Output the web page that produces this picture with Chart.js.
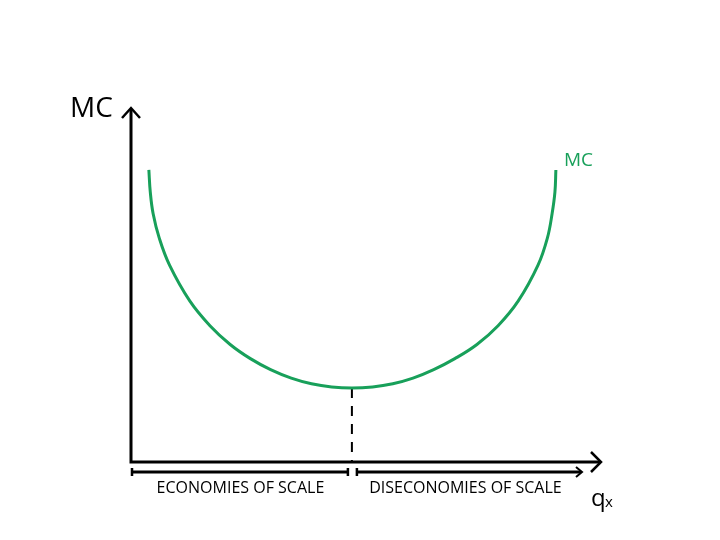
<!DOCTYPE html>
<html>
<head>
<meta charset="utf-8">
<script src="https://cdn.jsdelivr.net/npm/chart.js@4"></script>
<style>
  body { margin: 0; background: #fff; }
</style>
</head>
<body>
<canvas id="myChart" width="720" height="540"></canvas>
<script>
// quantity (x) and marginal cost (y)
var qx = [0.38, 0.41, 0.47, 0.60, 0.82, 1.25, 1.68, 2.11, 2.54, 2.97, 3.41, 3.84, 4.27, 4.70,
          5.14, 5.57, 6.00, 6.44, 6.89, 7.36, 7.81, 8.24, 8.66, 8.86, 8.96, 9.02, 9.04]
var mc = [8.25, 7.63, 7.02, 6.33, 5.56, 4.55, 3.85, 3.32, 2.92, 2.61, 2.37, 2.21, 2.12, 2.09,
          2.12, 2.21, 2.37, 2.61, 2.92, 3.32, 3.85, 4.55, 5.56, 6.33, 7.02, 7.63, 8.25]
// where economies of scale end
var minQ = 4.70
var minMC = 2.09
var scaleLabels = ['ECONOMIES OF SCALE', 'DISECONOMIES OF SCALE']

var curve = qx.map(function(q, i){ return {x: q, y: mc[i]} })
var dropLine = [{x: minQ, y: minMC}, {x: minQ, y: 0}]

var green = '#18a05a'
var font = '"Open Sans", "DejaVu Sans", sans-serif'

function arrowHead(ctx, x, y, dir, len, half){
  ctx.beginPath()
  if(dir === 'up'){
    ctx.moveTo(x - half, y + len); ctx.lineTo(x, y); ctx.lineTo(x + half, y + len)
  }else{
    ctx.moveTo(x - len, y - half); ctx.lineTo(x, y); ctx.lineTo(x - len, y + half)
  }
  ctx.stroke()
}

var axesPlugin = {
  id: 'axesPlugin',
  afterDatasetsDraw: function(chart){
    var ctx = chart.ctx
    var xs = chart.scales.x
    var ys = chart.scales.y
    var x0 = xs.getPixelForValue(0)
    var xEnd = xs.getPixelForValue(10)
    var y0 = ys.getPixelForValue(0)
    var yTop = ys.getPixelForValue(10)
    var xMin = xs.getPixelForValue(minQ)

    ctx.save()
    ctx.strokeStyle = '#000'
    ctx.lineWidth = 3
    ctx.lineCap = 'butt'
    ctx.lineJoin = 'miter'

    // axes
    ctx.beginPath()
    ctx.moveTo(x0, yTop + 1)
    ctx.lineTo(x0, y0)
    ctx.lineTo(xEnd - 1, y0)
    ctx.stroke()
    ctx.lineWidth = 2.5
    arrowHead(ctx, x0, yTop, 'up', 10, 9)
    arrowHead(ctx, xEnd, y0, 'right', 10, 10)

    // brackets under the axis
    var by = y0 + 10
    ctx.lineWidth = 3
    ctx.beginPath()
    ctx.moveTo(x0 + 1, by); ctx.lineTo(xMin - 4, by)
    ctx.moveTo(xMin + 5, by); ctx.lineTo(xEnd - 20, by)
    ctx.stroke()
    ctx.lineWidth = 2.5
    ctx.beginPath()
    ctx.moveTo(x0 + 1, by - 4); ctx.lineTo(x0 + 1, by + 4)
    ctx.moveTo(xMin - 4, by - 4); ctx.lineTo(xMin - 4, by + 4)
    ctx.moveTo(xMin + 5, by - 4); ctx.lineTo(xMin + 5, by + 4)
    ctx.stroke()
    ctx.lineWidth = 2
    arrowHead(ctx, xEnd - 19, by, 'right', 6, 5)

    // text
    ctx.fillStyle = '#000'
    ctx.textBaseline = 'alphabetic'
    ctx.textAlign = 'center'
    ctx.font = '16px ' + font
    ctx.fillText(scaleLabels[0], (x0 + xMin) / 2 - 1, 493)
    ctx.fillText(scaleLabels[1], (xMin + xEnd - 20) / 2 - 1, 493)

    ctx.textAlign = 'left'
    ctx.font = '28px ' + font
    ctx.fillText('MC', 70, 117)

    ctx.font = '24px ' + font
    ctx.fillText('q', 591, 506)
    ctx.font = '15px ' + font
    ctx.fillText('x', 605, 507)

    ctx.fillStyle = green
    ctx.font = '19px ' + font
    ctx.fillText('MC', 564, 166)
    ctx.restore()
  }
}

var config = {
  type: 'line',
  data: {
    datasets: [{
      label: 'MC',
      data: curve,
      borderColor: green,
      borderWidth: 3,
      pointRadius: 0,
      tension: 0.4,
      fill: false
    }, {
      label: 'min',
      data: dropLine,
      borderColor: '#000',
      borderWidth: 2,
      borderDash: [10, 8],
      pointRadius: 0,
      fill: false
    }]
  },
  options: {
    responsive: false,
    animation: false,
    layout: { padding: { left: 131, right: 119, top: 108, bottom: 78 } },
    plugins: { legend: { display: false }, tooltip: { enabled: false } },
    scales: {
      x: { type: 'linear', min: 0, max: 10, display: false },
      y: { type: 'linear', min: 0, max: 10, display: false }
    }
  },
  plugins: [axesPlugin]
}

var myChart = new Chart(document.getElementById('myChart'), config)
</script>
</body>
</html>
